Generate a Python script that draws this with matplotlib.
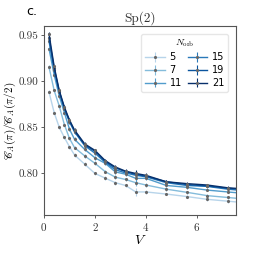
import numpy as np
import matplotlib
matplotlib.use("Agg")
import matplotlib.pyplot as plt

plt.rcParams['mathtext.fontset'] = 'cm'
plt.rcParams['font.family'] = 'serif'
plt.rcParams['font.serif'] = ['cmr10']
plt.rcParams['axes.formatter.use_mathtext'] = True

# V values (last point lies outside the shown x range)
V = [0.2, 0.4, 0.6, 0.8, 1.0, 1.2, 1.6, 2.0, 2.4, 2.8, 3.2, 3.6, 4.0, 4.8, 5.6, 6.4, 7.2, 8.0]

norb = [5, 7, 11, 15, 19, 21]
ratio_5 = [0.888, 0.866, 0.850, 0.839, 0.829, 0.820, 0.810, 0.800, 0.795, 0.790, 0.787, 0.780, 0.780, 0.7777, 0.775, 0.772, 0.770, 0.768]
ratio_7 = [0.915, 0.890, 0.873, 0.853, 0.838, 0.828, 0.819, 0.811, 0.802, 0.796, 0.7935, 0.790, 0.7875, 0.783, 0.7796, 0.776, 0.774, 0.772]
ratio_11 = [0.935, 0.907, 0.884, 0.866, 0.848, 0.837, 0.826, 0.817, 0.811, 0.8017, 0.7992, 0.7947, 0.7947, 0.787, 0.785, 0.782, 0.780, 0.778]
ratio_15 = [0.943, 0.912, 0.888, 0.870, 0.856, 0.845, 0.830, 0.822, 0.812, 0.804, 0.8006, 0.798, 0.7964, 0.790, 0.787, 0.786, 0.783, 0.781]
ratio_19 = [0.947, 0.914, 0.889, 0.871, 0.857, 0.846, 0.831, 0.824, 0.813, 0.806, 0.802, 0.799, 0.797, 0.791, 0.788, 0.7865, 0.784, 0.782]
ratio_21 = [0.951, 0.916, 0.890, 0.872, 0.858, 0.847, 0.832, 0.825, 0.814, 0.807, 0.8025, 0.800, 0.798, 0.791, 0.789, 0.7875, 0.7845, 0.783]
err = [0.002, 0.002, 0.002, 0.002, 0.002, 0.002, 0.002, 0.002, 0.002, 0.002, 0.002, 0.004, 0.002, 0.0015, 0.0015, 0.0015, 0.0015, 0.0015]

all_ratios = [ratio_5, ratio_7, ratio_11, ratio_15, ratio_19, ratio_21]
colors = plt.cm.Blues(np.linspace(0.3, 1.0, len(norb)))

fig = plt.figure(figsize=(2.54, 2.54), dpi=100)
ax = fig.add_axes([0.173, 0.1535, 0.756, 0.744])

for n, r, c in zip(norb, all_ratios, colors):
    ax.errorbar(V, r, yerr=err, fmt='.-', color=c, mec='#666666', mfc='#777777',
                ms=2.5, lw=1.0, elinewidth=0.8, label=str(n))

ax.set_xlim(0, 7.53)
ax.set_ylim(0.755, 0.9597)
ax.set_xticks([0, 2, 4, 6])
ax.set_yticks([0.80, 0.85, 0.90, 0.95])
ax.set_yticklabels(['0.80', '0.85', '0.90', '0.95'])
ax.tick_params(labelsize=8, length=2.5, width=0.6, color='#444444', labelcolor='#333333', pad=1.5)
for s in ax.spines.values():
    s.set_color('#555555')
    s.set_linewidth(0.8)

ax.set_xlabel('$V$', fontsize=10, labelpad=1)
ax.set_ylabel(r'$\mathscr{C}_A(\pi)/\mathscr{C}_A(\pi/2)$', fontsize=8)
ax.yaxis.set_label_coords(-0.135, 0.5)
ax.set_title('Sp(2)', fontsize=9.5, pad=3, color='#333333')
fig.text(0.105, 0.94, 'c.', fontsize=9, family='DejaVu Sans')

leg = ax.legend(title=r'$N_{\rm orb}$', ncol=2, loc='upper right', fontsize=7,
                title_fontsize=7, prop={'family': 'DejaVu Sans', 'size': 7},
                columnspacing=0.6, handlelength=2.0, handletextpad=0.5,
                labelspacing=0.3, borderpad=0.4, framealpha=0.8,
                bbox_to_anchor=(0.985, 0.985))
leg.get_frame().set_edgecolor('#e0e0e0')

fig.savefig('out.png', dpi=100)
